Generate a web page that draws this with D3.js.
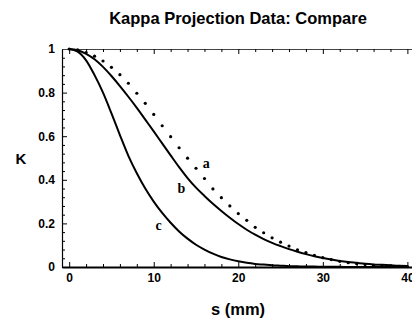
<!DOCTYPE html>
<html>
<head>
<meta charset="utf-8">
<script src="https://cdn.jsdelivr.net/npm/d3@7"></script>
<style>
  body { margin: 0; background: #fff; }
  svg { display: block; }
  .tick text { font-family: "Liberation Sans", Arial, sans-serif; font-weight: bold; font-size: 12px; fill: #000; }
</style>
</head>
<body>
<div id="chart"></div>
<script>
// s positions (mm) sampled at each integer
var sValues = [0, 1, 2, 3, 4, 5, 6, 7, 8, 9, 10, 11, 12, 13, 14, 15, 16, 17, 18, 19, 20,
               21, 22, 23, 24, 25, 26, 27, 28, 29, 30, 31, 32, 33, 34, 35, 36, 37, 38, 39, 40];

// curve a (dotted)
var aValues = [1.000, 0.996, 0.984, 0.967, 0.945, 0.916, 0.882, 0.843, 0.797, 0.751, 0.700,
               0.648, 0.598, 0.547, 0.499, 0.453, 0.406, 0.358, 0.318, 0.280, 0.245,
               0.214, 0.182, 0.157, 0.134, 0.114, 0.096, 0.079, 0.066, 0.054, 0.043,
               0.034, 0.026, 0.020, 0.015, 0.011, 0.008, 0.006, 0.004, 0.003, 0.002];

// curve b (solid)
var bValues = [1.000, 0.994, 0.978, 0.953, 0.918, 0.876, 0.830, 0.781, 0.730, 0.676, 0.622,
               0.567, 0.512, 0.458, 0.408, 0.364, 0.326, 0.290, 0.257, 0.226, 0.197,
               0.171, 0.148, 0.128, 0.111, 0.096, 0.082, 0.070, 0.059, 0.049, 0.041,
               0.034, 0.028, 0.023, 0.019, 0.015, 0.012, 0.010, 0.008, 0.006, 0.005];

// curve c (solid)
var cValues = [1.000, 0.988, 0.948, 0.880, 0.800, 0.705, 0.605, 0.510, 0.430, 0.360, 0.300,
               0.248, 0.203, 0.163, 0.130, 0.102, 0.080, 0.061, 0.046, 0.035, 0.026,
               0.019, 0.014, 0.011, 0.008, 0.006, 0.004, 0.003, 0.002, 0.002, 0.001,
               0.001, 0.001, 0.000, 0.000, 0.000, 0.000, 0.000, 0.000, 0.000, 0.000];

var xTicks = [0, 10, 20, 30, 40];
var xMinor = [2, 4, 6, 8, 12, 14, 16, 18, 22, 24, 26, 28, 32, 34, 36, 38];
var yTicks = [0, 0.2, 0.4, 0.6, 0.8, 1];
var yMinor = [0.04, 0.08, 0.12, 0.16, 0.24, 0.28, 0.32, 0.36, 0.44, 0.48, 0.52, 0.56,
              0.64, 0.68, 0.72, 0.76, 0.84, 0.88, 0.92, 0.96];

var curveLabels = [
  {text: 'a', s: 15.8, k: 0.455},
  {text: 'b', s: 12.8, k: 0.34},
  {text: 'c', s: 10.2, k: 0.17}
];

var width = 412, height = 320;
var sansFont = '"Liberation Sans", Arial, sans-serif';

var svg = d3.select('#chart')
  .append('svg')
  .attr('width', width)
  .attr('height', height);

var x = d3.scaleLinear().domain([-0.85, 40.9]).range([62, 415]);
var y = d3.scaleLinear().domain([0, 1]).range([267, 49]);

var fmt = function(d) { return d === 0 ? '0' : d === 1 ? '1' : d3.format('.1f')(d); };

// left frame, major + minor ticks pointing inward
svg.append('g')
  .attr('transform', 'translate(' + x.range()[0] + ',0)')
  .call(d3.axisLeft(y).tickValues(yTicks).tickSizeInner(-5).tickSizeOuter(0).tickPadding(7).tickFormat(fmt))
  .call(function(g) { g.select('.domain').attr('stroke-width', 1.2); });
svg.append('g')
  .attr('transform', 'translate(' + x.range()[0] + ',0)')
  .call(d3.axisLeft(y).tickValues(yMinor).tickSizeInner(-3).tickSizeOuter(0).tickFormat(''))
  .call(function(g) { g.select('.domain').remove(); });

// top frame
svg.append('g')
  .attr('transform', 'translate(0,' + y(1) + ')')
  .call(d3.axisTop(x).tickValues(xTicks).tickSizeInner(-5).tickSizeOuter(0).tickFormat(''))
  .call(function(g) { g.select('.domain').attr('stroke', '#444'); });
svg.append('g')
  .attr('transform', 'translate(0,' + y(1) + ')')
  .call(d3.axisTop(x).tickValues(xMinor).tickSizeInner(-3).tickSizeOuter(0).tickFormat(''))
  .call(function(g) { g.select('.domain').remove(); });

// curves
var line = d3.line()
  .x(function(d) { return x(d[0]); })
  .y(function(d) { return y(d[1]); })
  .curve(d3.curveMonotoneX);

[bValues, cValues].forEach(function(vals) {
  svg.append('path')
    .datum(sValues.map(function(s, i) { return [s, vals[i]]; }))
    .attr('fill', 'none')
    .attr('stroke', '#000')
    .attr('stroke-width', 2)
    .attr('d', line);
});

svg.append('g').selectAll('circle')
  .data(sValues.map(function(s, i) { return [s, aValues[i]]; }))
  .enter()
  .append('circle')
  .attr('cx', function(d) { return x(d[0]); })
  .attr('cy', function(d) { return y(d[1]); })
  .attr('r', 1.6)
  .attr('fill', '#000');

// bottom frame (drawn on top of the curves)
svg.append('g')
  .attr('transform', 'translate(0,' + y(0) + ')')
  .call(d3.axisBottom(x).tickValues(xTicks).tickSizeInner(-5).tickSizeOuter(0).tickPadding(6).tickFormat(d3.format('d')))
  .call(function(g) { g.select('.domain').attr('stroke-width', 2); });
svg.append('g')
  .attr('transform', 'translate(0,' + y(0) + ')')
  .call(d3.axisBottom(x).tickValues(xMinor).tickSizeInner(-3).tickSizeOuter(0).tickFormat(''))
  .call(function(g) { g.select('.domain').remove(); });

// curve labels
svg.selectAll('.curveLabel')
  .data(curveLabels)
  .enter()
  .append('text')
  .attr('class', 'curveLabel')
  .attr('x', function(d) { return x(d.s); })
  .attr('y', function(d) { return y(d.k); })
  .attr('font-family', '"Liberation Serif", "Times New Roman", serif')
  .attr('font-weight', 'bold')
  .attr('font-size', 14)
  .text(function(d) { return d.text; });

// title and axis labels
svg.append('text')
  .attr('x', 238).attr('y', 24)
  .attr('text-anchor', 'middle')
  .attr('font-family', sansFont).attr('font-weight', 'bold').attr('font-size', 16.5)
  .text('Kappa Projection Data: Compare');

svg.append('text')
  .attr('x', 21).attr('y', 164)
  .attr('text-anchor', 'middle')
  .attr('font-family', sansFont).attr('font-weight', 'bold').attr('font-size', 15)
  .text('K');

svg.append('text')
  .attr('x', 238).attr('y', 315)
  .attr('text-anchor', 'middle')
  .attr('font-family', sansFont).attr('font-weight', 'bold').attr('font-size', 16.5)
  .text('s (mm)');
</script>
</body>
</html>
